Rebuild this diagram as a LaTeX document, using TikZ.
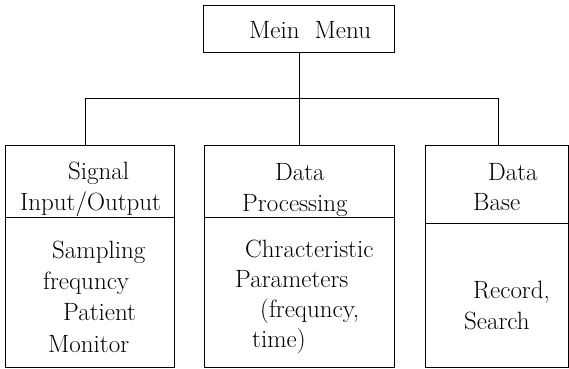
\documentclass[tikz,border=0pt]{standalone}
\usepackage{fontspec}
\begin{document}
\begin{tikzpicture}[x=1pt,y=-1pt,
  box/.style={draw,line width=1pt},
  wire/.style={draw,line width=1pt},
  txt/.style={anchor=base west,inner sep=0pt,font=\fontsize{25}{30}\selectfont}]
\useasboundingbox (0,0) rectangle (569,368);

% top menu box
\draw[box] (203,5) rectangle (394,52);
\coordinate (menuS) at (299,52);
\node[txt] (mein) at (249,38) {Mein~~Menu};

% module boxes: header part and body part
\draw[box] (5,145) rectangle (174,367);
\draw[box] (5,217) -- (174,217);
\draw[box] (204,145) rectangle (394,367);
\draw[box] (204,217) -- (394,217);
\draw[box] (425,145) rectangle (568,367);
\draw[box] (425,223) -- (568,223);
\coordinate (topA) at (85,145);
\coordinate (topB) at (299,145);
\coordinate (topC) at (498,145);

% tree connectors
\coordinate (busA) at (85,98);
\coordinate (busB) at (299,98);
\coordinate (busC) at (498,98);
\draw[wire] (menuS) -- (busB);
\draw[wire] (busA) -- (busC);
\draw[wire] (busA) -- (topA);
\draw[wire] (busB) -- (topB);
\draw[wire] (busC) -- (topC);

% signal input/output
\node[txt] (a1) at (68,179) {Signal};
\node[txt] (a2) at (20,210) {Input/Output};
\node[txt] (a3) at (52,258) {Sampling};
\node[txt] (a4) at (43,289) {frequncy};
\node[txt] (a5) at (63,320) {Patient};
\node[txt] (a6) at (48,352) {Monitor};

% data processing
\node[txt] (b1) at (275,180) {Data};
\node[txt] (b2) at (242,211) {Processing};
\node[txt] (b3) at (245,257) {Chracteristic};
\node[txt] (b4) at (235,287) {Parameters};
\node[txt] (b5) at (260,317) {(frequncy,};
\node[txt] (b6) at (252,347) {time)};

% data base
\node[txt] (c1) at (488,180) {Data};
\node[txt] (c2) at (473,210) {Base};
\node[txt] (c3) at (473,298) {Record,};
\node[txt] (c4) at (464,329) {Search};
\end{tikzpicture}
\end{document}
